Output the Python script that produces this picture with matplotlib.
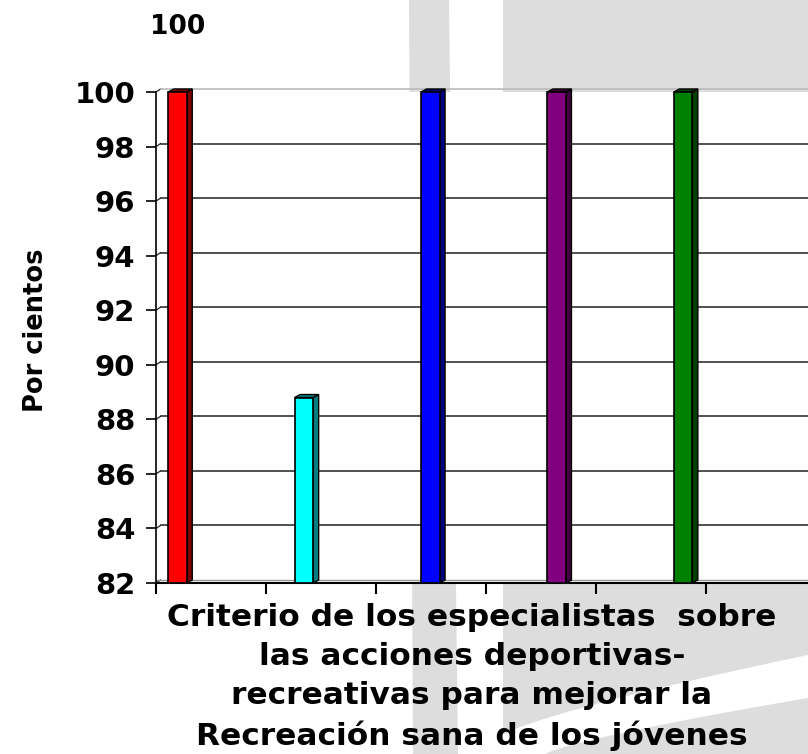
import numpy as np
import matplotlib
matplotlib.use("Agg")
import matplotlib.pyplot as plt
from matplotlib.patches import Polygon

# data
series_names = ["A", "B", "C", "D", "E"]
values = [100, 88.8, 100, 100, 100]
front_colors = ["#FF0000", "#00FFFF", "#0000FF", "#800080", "#008000"]
side_colors = ["#800000", "#008080", "#000080", "#400040", "#004000"]
y_ticks = [82, 84, 86, 88, 90, 92, 94, 96, 98, 100]
title_text = "100"
y_label = "Por cientos"
x_label = ("Criterio de los especialistas  sobre\n"
           "las acciones deportivas-\n"
           "recreativas para mejorar la\n"
           "Recreación sana de los jóvenes")

W, H = 808, 754
fig = plt.figure(figsize=(W / 100, H / 100), dpi=100)
fig.patch.set_facecolor("white")

def fx(px):
    return px / W

def fy(py):
    return 1 - py / H

# light gray watermark shapes in the background
gray = "#DDDDDD"
band = [(409, 0), (449, 0), (458, H), (413, H)]
fig.patches.append(Polygon([(fx(x), fy(y)) for x, y in band], closed=True,
                           transform=fig.transFigure, facecolor=gray,
                           edgecolor="none", zorder=0))
t = np.linspace(0, 1, 40)
curve2 = [(503 + 305 * s, 735 - 80 * s ** 0.8) for s in t]
reg2 = [(503, 0), (808, 0)] + curve2[::-1]
fig.patches.append(Polygon([(fx(x), fy(y)) for x, y in reg2], closed=True,
                           transform=fig.transFigure, facecolor=gray,
                           edgecolor="none", zorder=0))
curve3 = [(545 + 263 * s, 754 - 56 * s ** 0.8) for s in t]
reg3 = curve3 + [(808, H)]
fig.patches.append(Polygon([(fx(x), fy(y)) for x, y in reg3], closed=True,
                           transform=fig.transFigure, facecolor=gray,
                           edgecolor="none", zorder=0))

# plot area
left_px, right_px, top_px, bot_px = 156, 808, 92, 583
ax = fig.add_axes([fx(left_px), fy(bot_px), fx(right_px - left_px),
                   (bot_px - top_px) / H])
ax.set_facecolor("white")
ax.set_zorder(1)

tick_step = 110.0
ax.set_xlim(0, (right_px - left_px) / tick_step)
ax.set_ylim(82, 100)

dx = 4.5 / tick_step
dy = 3.0 / 27.3

# back-wall gridlines with the small diagonal joints to the axis
for v in y_ticks[1:-1]:
    ax.plot([dx, ax.get_xlim()[1]], [v + dy, v + dy], color="#222222",
            lw=1.1, zorder=1)
for v in y_ticks:
    ax.plot([0, dx], [v, v + dy], color="#222222", lw=0.9, zorder=1,
            clip_on=False)
ax.plot([dx, ax.get_xlim()[1]], [100 + dy, 100 + dy], color="#BBBBBB",
        lw=1.2, zorder=1, clip_on=False)
ax.axhline(82 + dy, color="#999999", lw=1.0, zorder=1)

# 3D-ish bars
start = 21.5 / tick_step
step = 126.4 / tick_step
bw = 18.5 / tick_step
sx = 5.5 / tick_step
for i, (v, fc, sc) in enumerate(zip(values, front_colors, side_colors)):
    x0 = start + i * step - bw / 2
    ax.add_patch(Polygon([(x0 + bw, 82), (x0 + bw + sx, 82 + dy),
                          (x0 + bw + sx, v + dy), (x0 + bw, v)],
                         closed=True, facecolor=sc, edgecolor="black",
                         lw=1.0, zorder=3, clip_on=False))
    ax.add_patch(Polygon([(x0, v), (x0 + sx, v + dy), (x0 + bw + sx, v + dy),
                          (x0 + bw, v)], closed=True, facecolor=sc,
                         edgecolor="black", lw=1.0, zorder=3, clip_on=False))
    ax.add_patch(Polygon([(x0, 82), (x0 + bw, 82), (x0 + bw, v), (x0, v)],
                         closed=True, facecolor=fc, edgecolor="black",
                         lw=1.2, zorder=4, clip_on=False))

for s in ["top", "right"]:
    ax.spines[s].set_visible(False)
ax.spines["left"].set_linewidth(1.2)
ax.spines["bottom"].set_linewidth(1.5)
ax.spines["left"].set_zorder(5)

ax.set_yticks(y_ticks)
ax.set_yticklabels([str(v) for v in y_ticks])
ax.set_xticks(np.arange(0, 6))
ax.set_xticklabels([])
ax.tick_params(axis="y", direction="out", length=7, width=1.2, pad=8,
               labelsize=21)
ax.tick_params(axis="x", direction="out", length=8, width=1.5)
for lab in ax.get_yticklabels():
    lab.set_fontweight("bold")

fig.text(fx(178), fy(27), title_text, ha="center", va="center",
         fontsize=19, fontweight="bold")
fig.text(fx(36), fy(330), y_label, ha="center", va="center", rotation=90,
         fontsize=18.5, fontweight="bold")
fig.text(fx(472), fy(677), x_label, ha="center", va="center",
         multialignment="center", fontsize=22.5, fontweight="bold",
         linespacing=1.42)

fig.savefig("out.png", dpi=100)
